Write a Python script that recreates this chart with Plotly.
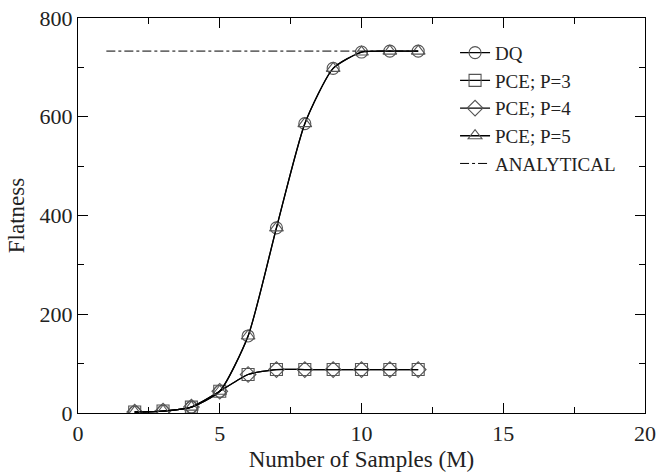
import plotly.graph_objects as go

M = [2, 3, 4, 5, 6, 7, 8, 9, 10, 11, 12]
dq = [2, 4, 12, 44, 156, 375, 586, 698, 731, 733, 733]
pce3 = [2, 4, 12, 44, 78, 88, 88, 88, 88, 88, 88]
pce4 = [2, 4, 12, 44, 78, 88, 88, 88, 88, 88, 88]
pce5 = [2, 4, 12, 44, 156, 375, 586, 698, 731, 733, 733]
analytical_x = [1, 12]
analytical_y = [733, 733]

FONT = "Liberation Serif"
mk = "#555555"

fig = go.Figure()
series = [
    ("DQ", dq, "circle-open"),
    ("PCE; P=3", pce3, "square-open"),
    ("PCE; P=4", pce4, "diamond-open"),
    ("PCE; P=5", pce5, "triangle-up-open"),
]
for name, ys, sym in series:
    fig.add_trace(go.Scatter(
        x=M, y=ys, name=name, mode="lines+markers",
        line=dict(color="black", width=1.3, shape="spline", smoothing=0.6),
        marker=dict(symbol=sym, size=12, color=mk, line=dict(width=1.1, color=mk)),
    ))
fig.add_trace(go.Scatter(
    x=analytical_x, y=analytical_y, name="ANALYTICAL", mode="lines",
    line=dict(color="black", width=1, dash="dashdot"),
))

axis_common = dict(
    showline=True, linecolor="black", linewidth=1.3, mirror="ticks",
    ticks="inside", ticklen=10, tickwidth=1.2, tickcolor="black",
    showgrid=False, zeroline=False, automargin=False,
    ticklabeloverflow="allow",
    tickfont=dict(family=FONT, size=22, color="#222"),
)
fig.update_xaxes(
    range=[0, 20], tick0=0, dtick=5,
    minor=dict(ticks="inside", ticklen=6, dtick=2.5, tickcolor="black", tickwidth=1.2),
    title=dict(text="Number of Samples (M)", font=dict(family=FONT, size=23, color="#222"), standoff=6),
    **axis_common,
)
fig.update_yaxes(
    range=[0, 800], tick0=0, dtick=200,
    minor=dict(ticks="inside", ticklen=6, dtick=100, tickcolor="black", tickwidth=1.2),
    title=dict(text="Flatness", font=dict(family=FONT, size=23, color="#222"), standoff=8),
    **axis_common,
)
fig.update_layout(
    width=656, height=476,
    margin=dict(l=78, r=11, t=18, b=63),
    plot_bgcolor="white", paper_bgcolor="white",
    legend=dict(
        x=0.665, y=0.96, xanchor="left", yanchor="top",
        bgcolor="rgba(0,0,0,0)", borderwidth=0,
        font=dict(family=FONT, size=19, color="#222"),
        tracegroupgap=0, itemwidth=30,
    ),
    showlegend=True,
)
fig.write_html("out.html")
